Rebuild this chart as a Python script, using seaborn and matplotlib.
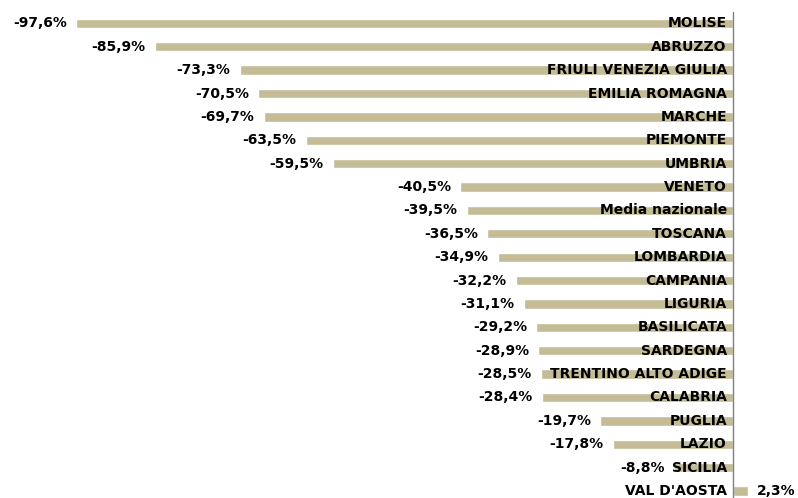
import numpy as np
import pandas as pd
import matplotlib
matplotlib.use("Agg")
import matplotlib.pyplot as plt
import seaborn as sns

# Data
regions = ["MOLISE", "ABRUZZO", "FRIULI VENEZIA GIULIA", "EMILIA ROMAGNA", "MARCHE",
           "PIEMONTE", "UMBRIA", "VENETO", "Media nazionale", "TOSCANA", "LOMBARDIA",
           "CAMPANIA", "LIGURIA", "BASILICATA", "SARDEGNA", "TRENTINO ALTO ADIGE",
           "CALABRIA", "PUGLIA", "LAZIO", "SICILIA", "VAL D'AOSTA"]
values = [-97.6, -85.9, -73.3, -70.5, -69.7, -63.5, -59.5, -40.5, -39.5, -36.5, -34.9,
          -32.2, -31.1, -29.2, -28.9, -28.5, -28.4, -19.7, -17.8, -8.8, 2.3]

df = pd.DataFrame({"region": regions, "value": values})

sns.set_style("white")
plt.rcParams['font.family'] = ['DejaVu Sans']

fig = plt.figure(figsize=(7.98, 4.98), dpi=100)
ax = fig.add_axes([0, 0, 1, 1])

sns.barplot(data=df, y="region", x="value", order=regions, orient="h",
            color="#C4BC96", saturation=1, width=0.40, ax=ax)

ax.set_xlim(-108.9, 9.66)
ax.set_ylim(20.30, -1.0)

# zero line
ax.plot([0, 0], [-0.5, 20.6], color="#808080", lw=1, zorder=3)

fs = 10
for i, (name, v) in enumerate(zip(regions, values)):
    val_txt = f"{v:.1f}%".replace(".", ",")
    ax.text(-0.9, i, name, ha="right", va="center", fontsize=fs, fontweight="bold", color="black")
    if v < 0:
        ax.text(v - 1.4, i, val_txt, ha="right", va="center", fontsize=fs, fontweight="bold", color="black")
    else:
        ax.text(v + 1.2, i, val_txt, ha="left", va="center", fontsize=fs, fontweight="bold", color="black")

ax.set_axis_off()
fig.savefig("out.png", dpi=100)
